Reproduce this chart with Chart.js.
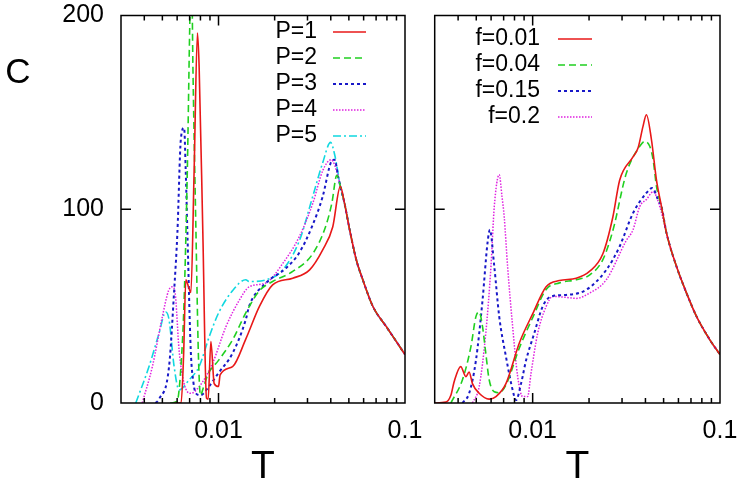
<!DOCTYPE html>
<html>
<head>
<meta charset="utf-8">
<script src="https://cdn.jsdelivr.net/npm/chart.js@4.4.1/dist/chart.umd.min.js"></script>
<style>
  body{margin:0;background:#fff;}
  #wrap{position:relative;width:743px;height:488px;overflow:hidden;}
  #left{position:absolute;left:0;top:0;}
  #right{position:absolute;left:428px;top:0;}
</style>
</head>
<body>
<div id="wrap">
  <canvas id="left" width="428" height="488"></canvas>
  <canvas id="right" width="315" height="488"></canvas>
</div>
<script>
// ---- values ----
const xTickValues = [0.01, 0.1];
const xTickLabels = ['0.01', '0.1'];
const yTickValues = [0, 100, 200];
const yTickLabels = ['0', '100', '200'];

const leftLabels = ['P=1', 'P=2', 'P=3', 'P=4', 'P=5'];
const rightLabels = ['f=0.01', 'f=0.04', 'f=0.15', 'f=0.2'];

// left panel
const tP1 = [0.0058,0.0063,0.0065,0.00668,0.0069,0.00711,0.0074,0.00771,0.00787,0.00824,0.00862,0.0088,0.0091,0.00948,0.0100,0.0102,0.0119,0.0140,0.0166,0.0195,0.025,0.0308,0.0362,0.041,0.045,0.0474,0.0505,0.0548,0.0594,0.0673,0.0794,0.0899,0.1];
const cP1 = [0,0,25,63.6,60,57,120,191,174,88,2.5,2,31.7,10,8.5,14.5,18.8,33,50,61,64.4,68.7,79,91,111.8,103,89.4,73.9,63.6,49.8,39.4,31.7,25];

const tP2 = [0.0055,0.0060,0.0063,0.00654,0.00681,0.0070,0.00715,0.0073,0.00757,0.0078,0.0080,0.0083,0.0088,0.0100,0.0119,0.0140,0.0166,0.0195,0.025,0.032,0.0375,0.0405,0.0431,0.0455,0.0474,0.0505,0.0548,0.0594,0.0673,0.0794,0.0899,0.1];
const cP2 = [0,1,20,53,122,191,230,170,88,25,4,8,15,22,32.6,46.5,58,62.7,67.9,77,91,103,117.5,110,103,89.4,73.9,63.6,49.8,39.4,31.7,25];

const tP3 = [0.0046,0.0048,0.00543,0.0058,0.00602,0.00628,0.00654,0.00667,0.00681,0.0071,0.00735,0.00757,0.0080,0.0088,0.0100,0.0119,0.0140,0.0146,0.0180,0.0230,0.0270,0.0317,0.0362,0.0400,0.0419,0.0440,0.0455,0.0474,0.0505,0.0548,0.0594,0.0673,0.0794,0.0899,0.1];
const cP3 = [0,2,18.8,60,88,136,142,120,88,27,10,5,4,8,15.5,25.7,43,50,62,69.6,77.3,91,106.6,124,125.6,116,110,103,89.4,73.9,63.6,49.8,39.4,31.7,25];

const tP4 = [0.0039,0.00442,0.0050,0.0054,0.00566,0.00585,0.00615,0.00654,0.0071,0.00787,0.00929,0.01096,0.01292,0.01462,0.01798,0.02209,0.02716,0.03201,0.03624,0.0402,0.0435,0.0455,0.0474,0.0505,0.0548,0.0594,0.0673,0.0794,0.0899,0.1];
const cP4 = [0,18.8,44.6,58,60,57,27,10,5,8.4,20.5,39.4,53,60,62,72,86,103,120,125.6,118,110,103,89.4,73.9,63.6,49.8,39.4,31.7,25];

const tP5 = [0.0036,0.00424,0.0048,0.00521,0.00543,0.00578,0.00615,0.00696,0.00787,0.0089,0.0100,0.0119,0.0140,0.0146,0.0180,0.0221,0.0272,0.0320,0.0362,0.0399,0.0420,0.0450,0.0474,0.0505,0.0548,0.0594,0.0673,0.0794,0.0899,0.1];
const cP5 = [0,18.8,36,47,43,18.8,6.7,12,18.8,34,46.4,58,63.6,62.7,63.6,68.7,84,106.6,124,134.5,128,112,103,89.4,73.9,63.6,49.8,39.4,31.7,25];

// right panel
const tF01 = [0.003,0.00344,0.00366,0.00381,0.00413,0.0044,0.00458,0.00477,0.00518,0.00586,0.00637,0.0072,0.00849,0.01,0.0118,0.0139,0.01708,0.0201,0.0237,0.0268,0.02913,0.03433,0.03651,0.03882,0.04047,0.04305,0.04581,0.04872,0.05182,0.05861,0.0663,0.075,0.0883,0.1];
const cF01 = [0,0.5,4,11,18.8,13.6,16,10,5,2,3.3,10,31,46,60,63.2,64.4,67.9,77,96,115,127,131.6,142.8,148.8,136,115,101.4,87.7,70.4,56.7,44.6,32.6,25];

const tF04 = [0.00366,0.00422,0.00468,0.00498,0.00518,0.0054,0.00562,0.00586,0.00624,0.00663,0.0072,0.00849,0.01,0.0118,0.0139,0.01708,0.0201,0.0237,0.0268,0.03165,0.03728,0.03964,0.04217,0.04395,0.04581,0.04872,0.05182,0.05861,0.0663,0.075,0.0883,0.1];
const cF04 = [0,12,29,44.6,47,39.4,25.7,12,5.8,5.3,9.3,28.4,44,58.6,62,63.6,66,74,89,118.7,132.5,135,132.5,125.6,111.8,101,87.7,70.4,56.7,44.6,32.6,25];

const tF15 = [0.00422,0.00458,0.00498,0.0054,0.00574,0.00591,0.00624,0.00663,0.0072,0.00782,0.00815,0.00867,0.00922,0.0102,0.01131,0.01255,0.0151,0.0193,0.02472,0.02913,0.03034,0.03433,0.04047,0.0435,0.04672,0.04872,0.05182,0.05861,0.0663,0.075,0.0883,0.1];
const cF15 = [0,5,22,53,82.5,89.4,70.4,44.6,24,6.7,1.5,10,22,36,49.8,55,55.8,58.4,68.7,80.8,85,98,108.4,111,105,101.4,87.7,70.4,56.7,44.6,32.6,25];

const tF20 = [0.00477,0.00518,0.00562,0.00599,0.00624,0.00663,0.00686,0.00705,0.00735,0.00782,0.00832,0.00884,0.0094,0.0098,0.01064,0.0118,0.0128,0.0151,0.01708,0.0201,0.02472,0.03165,0.03433,0.03728,0.04047,0.04395,0.04771,0.05182,0.05861,0.0663,0.075,0.0883,0.1];
const cF20 = [0,8.4,36,70.4,101.4,117.8,106.6,96,70.4,39.4,13.6,3.3,3.3,15.3,36,49.8,55,54.5,54,56.7,63.6,84,89.4,101.4,105,109,101.4,87.7,70.4,56.7,44.6,32.6,25];

const FONT = '"Liberation Sans", Arial, Helvetica, sans-serif';

const pts = (t, c) => t.map((v, i) => ({x: v, y: c[i]}));

// gnuplot-like line styles
const styles = [
  {color: '#e81818', dash: [], width: 1.6},
  {color: '#20d020', dash: [7, 4], width: 1.6},
  {color: '#1818c8', dash: [3, 3], width: 2},
  {color: '#e020e0', dash: [1.5, 1.5], width: 1.5},
  {color: '#10d8e0', dash: [8, 3, 2, 3], width: 1.6}
];

const makeSet = (label, t, c, i) => ({
  label: label,
  data: pts(t, c),
  borderColor: styles[i].color,
  borderDash: styles[i].dash,
  borderWidth: styles[i].width,
  pointRadius: 0,
  fill: false,
  cubicInterpolationMode: 'monotone'
});

// frame with inward ticks on all four sides
const frameTicks = {
  id: 'frameTicks',
  afterDatasetsDraw(chart) {
    const {ctx, chartArea: a, scales: {x, y}} = chart;
    ctx.save();
    ctx.strokeStyle = '#000';
    ctx.lineWidth = 1.5;
    ctx.setLineDash([]);
    ctx.beginPath();
    for (let d = 0.001; d < 1; d *= 10) {
      for (let k = 1; k < 10; k++) {
        const v = k * d;
        if (v < x.min * 0.999 || v > x.max * 1.001) continue;
        const px = x.getPixelForValue(v);
        const len = xTickValues.some(t => Math.abs(t - v) < 1e-9) ? 10 : 5;
        ctx.moveTo(px, a.bottom); ctx.lineTo(px, a.bottom - len);
        ctx.moveTo(px, a.top); ctx.lineTo(px, a.top + len);
      }
    }
    yTickValues.forEach(v => {
      const py = y.getPixelForValue(v);
      ctx.moveTo(a.left, py); ctx.lineTo(a.left + 10, py);
      ctx.moveTo(a.right, py); ctx.lineTo(a.right - 10, py);
    });
    ctx.rect(a.left, a.top, a.right - a.left, a.bottom - a.top);
    ctx.stroke();
    ctx.restore();
  }
};

// key: label text first, line sample after it
const keyPlugin = {
  id: 'key',
  afterDatasetsDraw(chart, args, opts) {
    const ctx = chart.ctx;
    ctx.save();
    ctx.font = '23px ' + FONT;
    ctx.textAlign = 'right';
    ctx.textBaseline = 'middle';
    chart.data.datasets.forEach((ds, i) => {
      const yy = opts.top + i * opts.step;
      ctx.fillStyle = '#000';
      ctx.fillText(ds.label, opts.textRight, yy);
      ctx.strokeStyle = ds.borderColor;
      ctx.lineWidth = ds.borderWidth;
      ctx.setLineDash(ds.borderDash);
      ctx.beginPath();
      ctx.moveTo(opts.lineFrom, yy);
      ctx.lineTo(opts.lineTo, yy);
      ctx.stroke();
    });
    ctx.restore();
  }
};

// upright y-axis letter
const yLetter = {
  id: 'yLetter',
  afterDraw(chart, args, opts) {
    if (!opts.text) return;
    const ctx = chart.ctx;
    ctx.save();
    ctx.font = opts.size + 'px ' + FONT;
    ctx.fillStyle = '#000';
    ctx.textAlign = 'center';
    ctx.textBaseline = 'middle';
    ctx.fillText(opts.text, opts.x, opts.y);
    ctx.restore();
  }
};

const xScale = () => ({
  type: 'logarithmic',
  min: 0.003,
  max: 0.1,
  grid: {display: false, drawTicks: false},
  border: {display: false},
  afterBuildTicks: s => { s.ticks = xTickValues.map(v => ({value: v})); },
  ticks: {
    autoSkip: false, maxRotation: 0, padding: 13, color: '#000',
    font: {family: FONT, size: 25},
    callback: (v, i) => xTickLabels[i]
  },
  title: {
    display: true, text: 'T', color: '#000',
    font: {family: FONT, size: 39, lineHeight: 1},
    padding: {top: 0, bottom: 1.5}
  },
  afterFit: s => { s.height = 85; s.paddingLeft = 0; s.paddingRight = 0; }
});

const yScale = (show) => ({
  min: 0,
  max: 200,
  display: show,
  grid: {display: false, drawTicks: false},
  border: {display: false},
  afterBuildTicks: s => { s.ticks = yTickValues.map(v => ({value: v})); },
  ticks: {
    padding: 17, color: '#000',
    font: {family: FONT, size: 25},
    callback: (v, i) => yTickLabels[i]
  },
  afterFit: s => { if (show) { s.width = 121; } s.paddingTop = 0; s.paddingBottom = 0; }
});

new Chart(document.getElementById('left'), {
  type: 'line',
  data: {
    datasets: [
      makeSet(leftLabels[0], tP1, cP1, 0),
      makeSet(leftLabels[1], tP2, cP2, 1),
      makeSet(leftLabels[2], tP3, cP3, 2),
      makeSet(leftLabels[3], tP4, cP4, 3),
      makeSet(leftLabels[4], tP5, cP5, 4)
    ]
  },
  options: {
    responsive: false,
    animation: false,
    layout: {padding: {left: 0, right: 23, top: 15.5, bottom: 0}},
    scales: {x: xScale(), y: yScale(true)},
    plugins: {
      legend: {display: false},
      tooltip: {enabled: false},
      key: {top: 32, step: 26, textRight: 317, lineFrom: 333, lineTo: 366},
      yLetter: {text: 'C', x: 18, y: 73, size: 35}
    }
  },
  plugins: [frameTicks, keyPlugin, yLetter]
});

new Chart(document.getElementById('right'), {
  type: 'line',
  data: {
    datasets: [
      makeSet(rightLabels[0], tF01, cF01, 0),
      makeSet(rightLabels[1], tF04, cF04, 1),
      makeSet(rightLabels[2], tF15, cF15, 2),
      makeSet(rightLabels[3], tF20, cF20, 3)
    ]
  },
  options: {
    responsive: false,
    animation: false,
    layout: {padding: {left: 6.7, right: 23, top: 15.5, bottom: 0}},
    scales: {x: xScale(), y: yScale(false)},
    plugins: {
      legend: {display: false},
      tooltip: {enabled: false},
      key: {top: 39, step: 26, textRight: 112, lineFrom: 130, lineTo: 164},
      yLetter: {text: ''}
    }
  },
  plugins: [frameTicks, keyPlugin, yLetter]
});
</script>
</body>
</html>
